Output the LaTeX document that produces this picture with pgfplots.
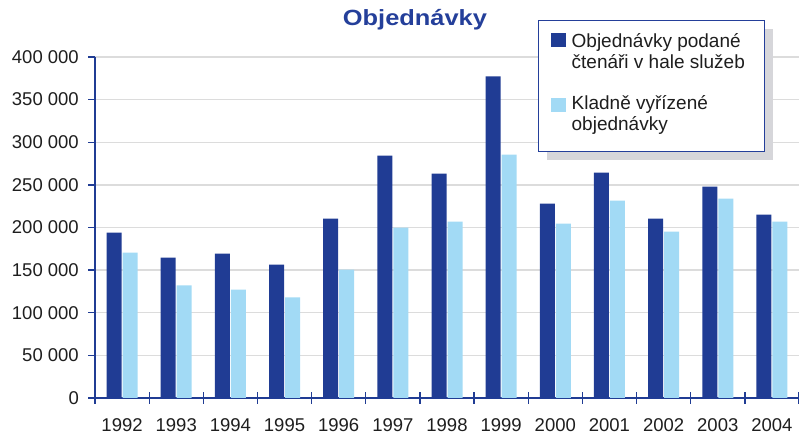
\documentclass[border=0pt]{standalone}
\usepackage{pgfplots}
\pgfplotsset{compat=1.18}
\usepackage{graphicx}
\usepackage{fontspec}
\setmainfont{Liberation Sans}
\usetikzlibrary{shadows}
\definecolor{darkbar}{HTML}{203C94}
\definecolor{lightbar}{HTML}{A2DAF5}
\definecolor{titleblue}{HTML}{243F9A}
\definecolor{gridgray}{HTML}{DCDCDC}
\definecolor{shadowgray}{HTML}{D6D6DA}
\definecolor{txt}{HTML}{1E1E1E}
\begin{document}
\begin{tikzpicture}
\begin{axis}[
  name=ax,
  scale only axis,
  width=704bp, height=341bp,
  ybar=1bp, bar width=15bp,
  xmin=-0.5, xmax=12.5,
  ymin=0, ymax=400000,
  axis x line*=bottom, axis y line*=left,
  axis line style={darkbar, line width=1.3bp},
  xtick={0,...,12},
  xticklabels={1992,1993,1994,1995,1996,1997,1998,1999,2000,2001,2002,2003,2004},
  minor xtick={-0.5,0.5,...,12.5},
  major x tick style={draw=none},
  minor x tick style={darkbar, line width=1.3bp},
  minor tick length=12bp,
  xtick align=center,
  ytick={0,50000,...,400000},
  yticklabels={0,50 000,100 000,150 000,200 000,250 000,300 000,350 000,400 000},
  ytick align=outside,
  major tick length=7bp,
  y tick style={darkbar, line width=1.3bp},
  scaled y ticks=false,
  ymajorgrids,
  major y grid style={gridgray, line width=1.3bp},
  tick label style={font=\fontsize{18.5bp}{20bp}\selectfont, text=txt},
  xticklabel style={anchor=base, yshift=-30bp},
  yticklabel style={anchor=east, xshift=-9bp, inner sep=0pt},
  title={\scalebox{1.155}[1]{Objednávky}},
  title style={at={(0.4545,1)}, anchor=base, yshift=25.3bp, font=\fontsize{22bp}{24bp}\selectfont\bfseries, text=titleblue, inner sep=0pt},
  legend style={at={(0.6293,1.1085)}, anchor=north west, draw=titleblue, line width=1.3bp, fill=white,
    drop shadow={shadow xshift=8bp, shadow yshift=-8bp, fill=shadowgray, opacity=1},
    font=\fontsize{19bp}{21bp}\selectfont, text=txt,
    inner xsep=12bp, inner ysep=12bp,
    nodes={inner sep=0pt},
    cells={anchor=base west},
    column sep=6bp, row sep=25bp},
]
\addplot[fill=darkbar, draw=none,
  legend image code/.code={\pgfsetfillcolor{darkbar}\pgfpathrectangle{\pgfpoint{0bp}{22bp}}{\pgfpoint{15bp}{14bp}}\pgfusepath{fill}}]
 coordinates {
 (0,194000) (1,164700) (2,169400) (3,156500) (4,210400) (5,284300) (6,263200)
 (7,377400) (8,228000) (9,264400) (10,210400) (11,248000) (12,215100)};
\addplot[fill=lightbar, draw=none,
  legend image code/.code={\pgfsetfillcolor{lightbar}\pgfpathrectangle{\pgfpoint{0bp}{26bp}}{\pgfpoint{15bp}{14bp}}\pgfusepath{fill}}]
 coordinates {
 (0,170600) (1,132200) (2,127200) (3,118100) (4,150600) (5,199900) (6,206900)
 (7,285500) (8,204600) (9,231600) (10,195200) (11,233900) (12,206900)};
\legend{\parbox[b]{181bp}{Objednávky podané\\čtenáři v hale služeb},
        \parbox[b]{181bp}{Kladně vyřízené\\objednávky\endgraf\vspace{4bp}}}
\coordinate (bl) at (rel axis cs:0,0);
\coordinate (tr) at (rel axis cs:1,1);
\end{axis}
\pgfresetboundingbox
\path ([xshift=-95bp,yshift=-36bp]bl) rectangle ([yshift=57bp]tr);
\end{tikzpicture}
\end{document}
